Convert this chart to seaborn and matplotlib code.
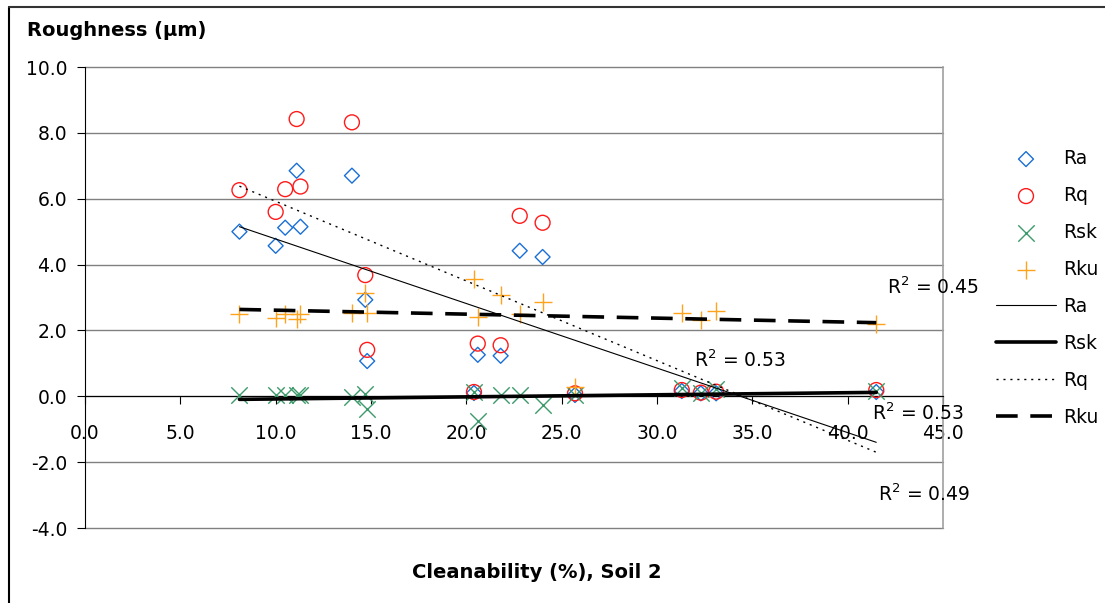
import numpy as np
import matplotlib
matplotlib.use("Agg")
import matplotlib.pyplot as plt
from matplotlib.lines import Line2D
import seaborn as sns
import pandas as pd

sns.set_style("white")
plt.rcParams['font.family'] = ['DejaVu Sans']
plt.rcParams['mathtext.fontset'] = 'dejavusans'
plt.rcParams['text.color'] = 'black'
plt.rcParams['axes.labelcolor'] = 'black'

# cleanability (%) for each sample, soil 2
clean = [8.1, 10.0, 10.5, 11.1, 11.3, 14.0, 14.7, 14.8, 20.4, 20.6,
         21.8, 22.8, 24.0, 25.7, 31.3, 32.3, 33.1, 41.5]
ra = [5.00, 4.57, 5.12, 6.85, 5.15, 6.70, 2.93, 1.07, 0.10, 1.26,
      1.23, 4.42, 4.23, 0.04, 0.16, 0.09, 0.09, 0.13]
rq = [6.26, 5.60, 6.29, 8.42, 6.37, 8.32, 3.68, 1.41, 0.13, 1.60,
      1.55, 5.48, 5.27, 0.09, 0.19, 0.11, 0.14, 0.19]
rsk = [0.03, 0.03, 0.03, 0.03, 0.03, -0.03, 0.06, -0.40, 0.12, -0.75,
       0.04, 0.04, -0.26, 0.04, 0.26, 0.09, 0.21, 0.16]
rku = [2.49, 2.39, 2.51, 2.36, 2.51, 2.54, 3.15, 2.54, 3.56, 2.42,
       3.07, 2.49, 2.85, 0.28, 2.54, 2.32, 2.59, 2.19]

r2_labels = ["R$^{2}$ = 0.45", "R$^{2}$ = 0.53", "R$^{2}$ = 0.53", "R$^{2}$ = 0.49"]

df = pd.DataFrame({"clean": clean, "Ra": ra, "Rq": rq, "Rsk": rsk, "Rku": rku})

fig = plt.figure(figsize=(11.05, 6.03), dpi=100)
ax = fig.add_axes([85/1105, 1-528/603, (943-85)/1105, (528-67)/603])

FS = 13.5
# markers
sns.scatterplot(data=df, x="clean", y="Ra", marker="D", s=58, facecolor="none",
                edgecolor="#1a6fd6", linewidth=1.0, label="Ra", ax=ax, zorder=3)
sns.scatterplot(data=df, x="clean", y="Rq", marker="o", s=115, facecolor="none",
                edgecolor="#ff1a1a", linewidth=1.0, label="Rq", ax=ax, zorder=3)
sns.scatterplot(data=df, x="clean", y="Rsk", marker="x", s=140, color="#3c9a6a",
                linewidth=1.0, label="Rsk", ax=ax, zorder=3)
sns.scatterplot(data=df, x="clean", y="Rku", marker="+", s=170, color="#ffa31a",
                linewidth=1.0, label="Rku", ax=ax, zorder=3)

# linear trendlines
sns.regplot(data=df, x="clean", y="Ra", scatter=False, ci=None, label="Ra", ax=ax,
            line_kws=dict(color="black", lw=0.8, zorder=4))
sns.regplot(data=df, x="clean", y="Rsk", scatter=False, ci=None, label="Rsk", ax=ax,
            line_kws=dict(color="black", lw=2.6, zorder=4))
sns.regplot(data=df, x="clean", y="Rq", scatter=False, ci=None, label="Rq", ax=ax,
            line_kws=dict(color="black", lw=1.0, ls=(0, (1.5, 3.5)), zorder=4))
sns.regplot(data=df, x="clean", y="Rku", scatter=False, ci=None, label="Rku", ax=ax,
            line_kws=dict(color="black", lw=2.6, ls=(0, (6, 3.5)), zorder=4))

ax.set_xlim(0, 45)
ax.set_ylim(-4, 10)
ax.set_xticks(np.arange(0, 46, 5))
ax.set_yticks(np.arange(-4, 11, 2))
ax.xaxis.set_major_formatter(matplotlib.ticker.FormatStrFormatter("%.1f"))
ax.yaxis.set_major_formatter(matplotlib.ticker.FormatStrFormatter("%.1f"))
ax.set_xlabel("")
ax.set_ylabel("")

ax.grid(axis="y", color="#808080", lw=1.0)
for gl in ax.get_ygridlines():
    gl.set_clip_on(False)
ax.set_axisbelow(True)
ax.spines["bottom"].set_position(("data", 0))
ax.spines["bottom"].set_color("black")
ax.spines["bottom"].set_linewidth(0.8)
ax.spines["left"].set_color("black")
ax.spines["left"].set_linewidth(0.8)
ax.spines["top"].set_visible(False)
ax.spines["right"].set_color("#a0a0a0")
ax.spines["right"].set_linewidth(1.2)
ax.tick_params(axis="both", direction="out", length=5.8, width=0.8, labelsize=FS,
               colors="black")
ax.tick_params(axis="y", left=True, pad=7)
ax.tick_params(axis="x", bottom=True, pad=14)

# R^2 labels
ax.text(42.05, 3.10, r2_labels[0], fontsize=FS, va="baseline")
ax.text(31.95, 0.90, r2_labels[1], fontsize=FS, va="baseline")
ax.text(41.25, -0.72, r2_labels[2], fontsize=FS, va="baseline")
ax.text(41.6, -3.19, r2_labels[3], fontsize=FS, va="baseline")

ax.legend(loc="upper left", bbox_to_anchor=(996/1105, 1-149/603),
          bbox_transform=fig.transFigure, frameon=False, fontsize=FS,
          borderpad=0, borderaxespad=0, handlelength=3.2, handletextpad=0.4,
          labelspacing=0.96, scatterpoints=1, labelcolor="black")

fig.text(27/1105, 1-30/603, "Roughness (µm)", fontsize=14, weight="bold", va="center")
fig.text(537/1105, 1-572/603, "Cleanability (%), Soil 2", fontsize=14, weight="bold",
         ha="center", va="center")

# chart border
fig.add_artist(Line2D([9/1105, 9/1105], [0, 1-7/603], color="black", lw=1.5,
                      transform=fig.transFigure))
fig.add_artist(Line2D([9/1105, 1], [1-7/603, 1-7/603], color="#333333", lw=1.5,
                      transform=fig.transFigure))

fig.savefig("out.png", dpi=100)
